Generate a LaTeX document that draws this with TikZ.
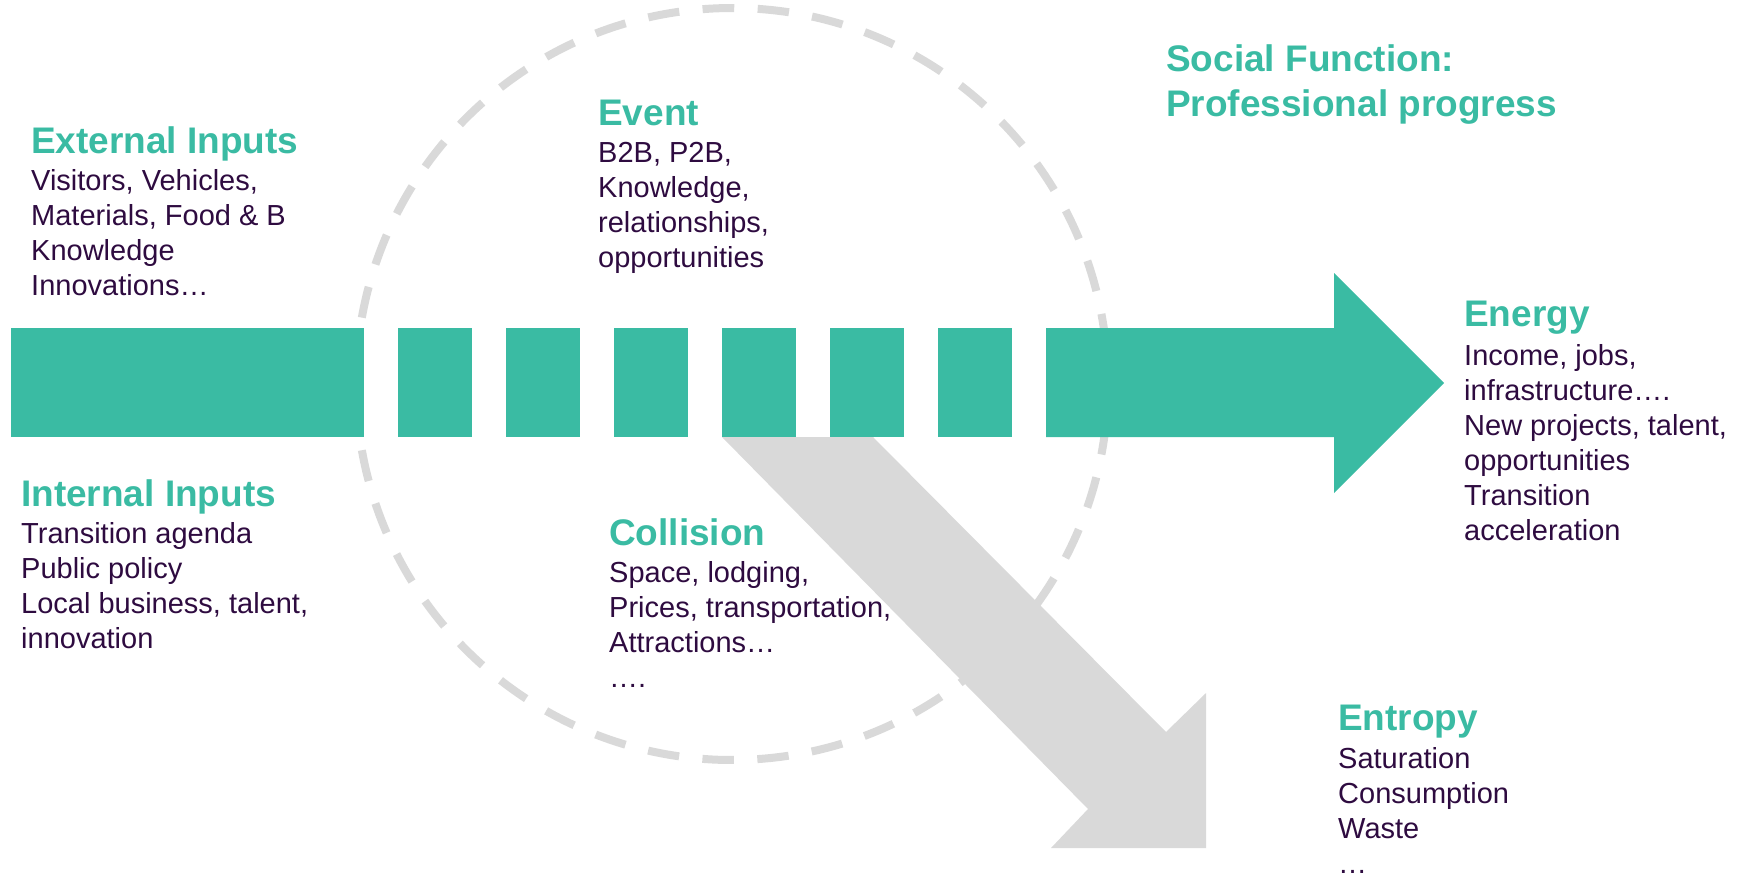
\documentclass[tikz,border=0pt]{standalone}
\usepackage{fontspec}
\setmainfont{Liberation Sans}
\usepackage{tikz}
\usetikzlibrary{positioning}
\definecolor{tealgreen}{HTML}{3ABBA3}
\definecolor{plum}{HTML}{2E0B40}
\definecolor{fog}{HTML}{D9D9D9}

\begin{document}
\begin{tikzpicture}[
  x=1pt, y=-1pt,
  heading/.style={font={\fontsize{37}{45}\selectfont\bfseries},
    text=tealgreen, anchor=base west, align=left, inner sep=0pt},
  % multi-line nodes sit on the baseline of their last line
  items/.style={font={\fontsize{29}{35}\selectfont},
    text=plum, anchor=base west, align=left, inner sep=0pt},
  ring/.style={draw=fog, line width=8pt,
    dash pattern=on 31.5pt off 23.44pt},
  ]
  \useasboundingbox (0,0) rectangle (1746,875);
  % Dashed circle
  \coordinate (hub) at (732,384);
  \draw[ring] (hub) ++(-94.46:376)
    arc[start angle=-94.46, delta angle=360, radius=376];
  % Entropy arrow
  \fill[fog] (722,437) -- (873,437) -- (1166,732) -- (1206,693)
    -- (1206,848) -- (1051,848) -- (1088,809) -- cycle;
  % Energy arrow
  \fill[tealgreen] (11,328) rectangle (364,437);
  \foreach \i in {0,...,5}
    \fill[tealgreen] ({398+108*\i},328) rectangle +(74,109);
  \fill[tealgreen] (1046,328) -- (1334,328) -- (1334,273) -- (1444,383)
    -- (1334,493) -- (1334,437) -- (1046,437) -- cycle;
  % Social function
  \node[heading] (soc) at (1166,116) {Social Function:\\Professional progress};
  % External inputs
  \node[heading] (ext) at (31,153) {External Inputs};
  \node[items] (extlist) at ([yshift=-142pt]ext.base west)
    {Visitors, Vehicles,\\Materials, Food \& B\\Knowledge\\Innovations…};
  % Internal inputs
  \node[heading] (int) at (21,506) {Internal Inputs};
  \node[items] (intlist) at ([yshift=-142pt]int.base west)
    {Transition agenda\\Public policy\\Local business, talent,\\innovation};
  % Event
  \node[heading] (ev) at (598,125) {Event};
  \node[items] (evlist) at ([yshift=-142pt]ev.base west)
    {B2B, P2B,\\Knowledge,\\relationships,\\opportunities};
  % Collision
  \node[heading] (col) at (609,545) {Collision};
  \node[items] (collist) at ([yshift=-142pt]col.base west)
    {Space, lodging,\\Prices, transportation,\\Attractions…\\….};
  % Energy
  \node[heading] (en) at (1464,326) {Energy};
  \node[items] (enlist) at ([yshift=-214pt]en.base west)
    {Income, jobs,\\infrastructure….\\New projects, talent,\\opportunities\\Transition\\acceleration};
  % Entropy
  \node[heading] (entr) at (1338,730) {Entropy};
  \node[items] (entrlist) at ([yshift=-143pt]entr.base west)
    {Saturation\\Consumption\\Waste\\…};
\end{tikzpicture}
\end{document}
